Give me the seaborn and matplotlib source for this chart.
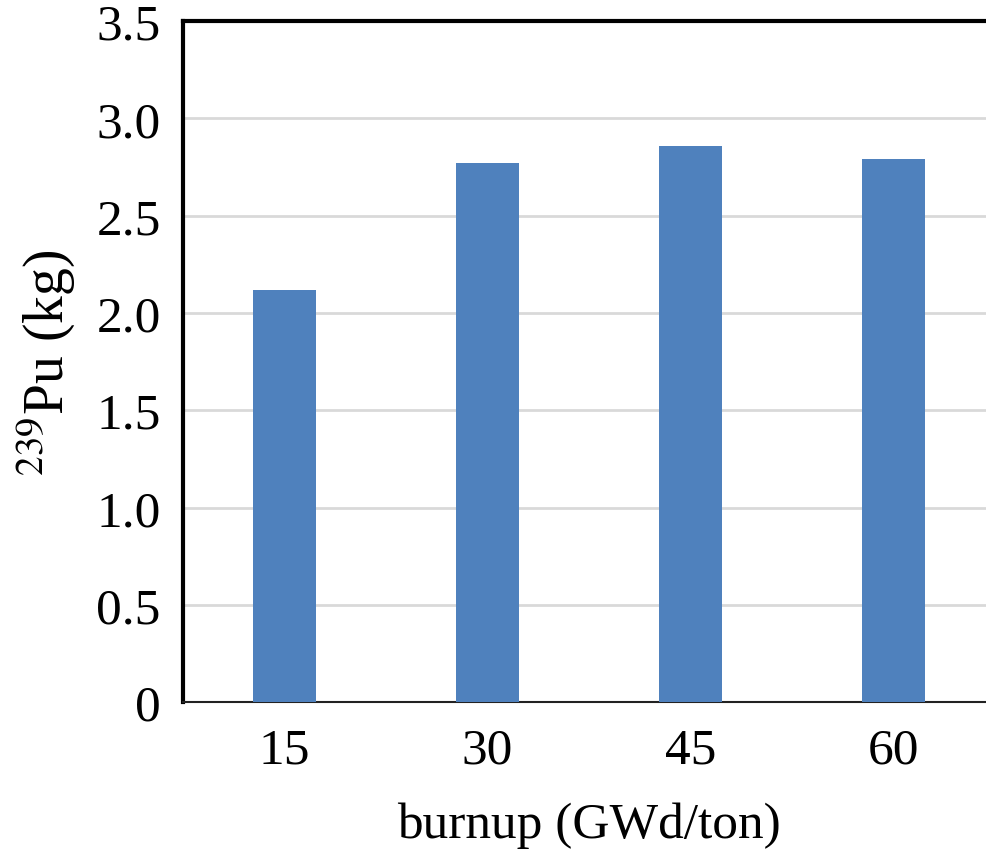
import pandas as pd
import seaborn as sns
import matplotlib.pyplot as plt

burnup = ["15", "30", "45", "60"]
pu239 = [2.12, 2.77, 2.86, 2.79]
yticks = [0, 0.5, 1.0, 1.5, 2.0, 2.5, 3.0, 3.5]
ytick_labels = ["0", "0.5", "1.0", "1.5", "2.0", "2.5", "3.0", "3.5"]

df = pd.DataFrame({"burnup": burnup, "pu": pu239})

sns.set_style("white")
plt.rcParams["font.family"] = ["Liberation Serif", "DejaVu Serif"]
plt.rcParams["mathtext.fontset"] = "stix"

fig = plt.figure(figsize=(9.87, 8.53), dpi=100)
ax = fig.add_axes([0.1854, 0.1758, 0.8226, 0.7982])

sns.barplot(data=df, x="burnup", y="pu", color="#4F81BD", width=0.31,
            saturation=1, linewidth=0, ax=ax, zorder=3)

ax.set_ylim(0, 3.5)
ax.set_xlim(-0.5, 3.5)
ax.set_yticks(yticks)
ax.set_yticklabels(ytick_labels)
ax.yaxis.grid(True, color="#D9D9D9", linewidth=2, zorder=0)
ax.set_axisbelow(True)
ax.tick_params(axis="both", length=0, labelsize=37, labelcolor="black")
ax.tick_params(axis="y", pad=16)
ax.tick_params(axis="x", pad=18)

for side in ["left", "top"]:
    ax.spines[side].set_color("black")
    ax.spines[side].set_linewidth(3)
ax.spines["bottom"].set_color("#222222")
ax.spines["bottom"].set_linewidth(1.5)
ax.spines["right"].set_visible(False)

ax.set_xlabel("burnup (GWd/ton)", fontsize=37, color="black", labelpad=20)
ax.set_ylabel(r"$^{239}$Pu (kg)", fontsize=40, color="black", labelpad=14)

plt.savefig("out.png", dpi=100)
